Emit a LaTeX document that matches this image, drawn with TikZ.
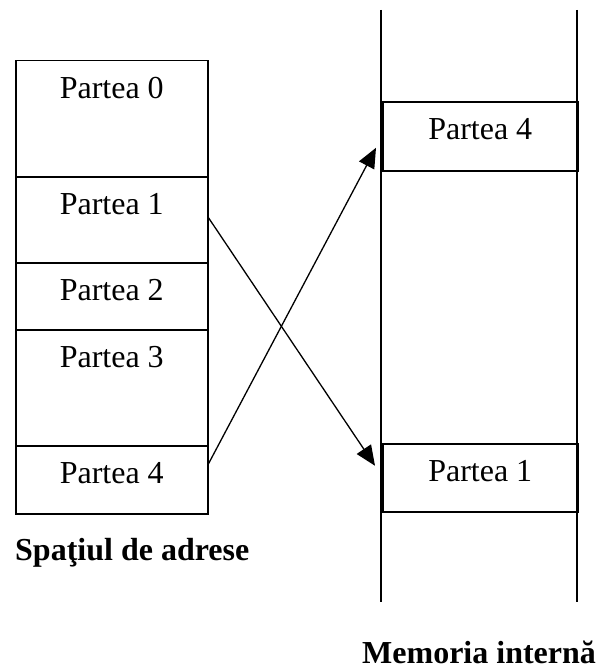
\documentclass[tikz,border=0pt]{standalone}
\usepackage{fontspec}
\setmainfont{Liberation Serif}
\usetikzlibrary{arrows.meta}
\begin{document}
\begin{tikzpicture}[x=1pt,y=-1pt,
  box/.style={draw,line width=1.5pt,minimum width=192pt,inner sep=0pt,anchor=north west},
  rbox/.style={draw,line width=1.5pt,minimum width=195pt,inner sep=0pt,anchor=north west},
  lbl/.style={anchor=base,yshift=-38pt,inner sep=0pt,font=\fontsize{32}{38}\selectfont},
  title/.style={anchor=base west,inner sep=0pt,font=\fontsize{32}{38}\selectfont\bfseries},
  conn/.style={line width=1.3pt,-{Triangle[length=20pt,width=17pt]}},
  wall/.style={line width=1.4pt}]
\useasboundingbox (0,0) rectangle (595,669);
% left column
\node[box,minimum height=116pt] (p0) at (15,60) {};
\node[box,minimum height=86pt] (p1) at (15,176) {};
\node[box,minimum height=67pt] (p2) at (15,262) {};
\node[box,minimum height=116pt] (p3) at (15,329) {};
\node[box,minimum height=68pt] (p4) at (15,445) {};
\node[lbl] (t0) at (p0.north) {Partea 0};
\node[lbl] (t1) at (p1.north) {Partea 1};
\node[lbl] (t2) at (p2.north) {Partea 2};
\node[lbl] (t3) at (p3.north) {Partea 3};
\node[lbl] (t4) at (p4.north) {Partea 4};
% right column
\coordinate (la) at (381,10);
\coordinate (lb) at (381,602);
\coordinate (ra) at (577,10);
\coordinate (rb) at (577,602);
\draw[wall] (la) -- (lb);
\draw[wall] (ra) -- (rb);
\node[rbox,minimum height=69pt] (r4) at (382,101) {};
\node[rbox,minimum height=68pt] (r1) at (382,443) {};
\node[lbl] (u4) at (r4.north) {Partea 4};
\node[lbl] (u1) at (r1.north) {Partea 1};
% connectors
\draw[conn] ([yshift=2pt]p1.east) -- ([xshift=-7pt,yshift=12pt]r1.west);
\draw[conn] ([yshift=16pt]p4.east) -- ([xshift=-6pt,yshift=-11.5pt]r4.west);
% titles
\node[title] (s) at (15,560) {Spaţiul de adrese};
\node[title] (m) at (362,663) {Memoria internă};
\end{tikzpicture}
\end{document}
